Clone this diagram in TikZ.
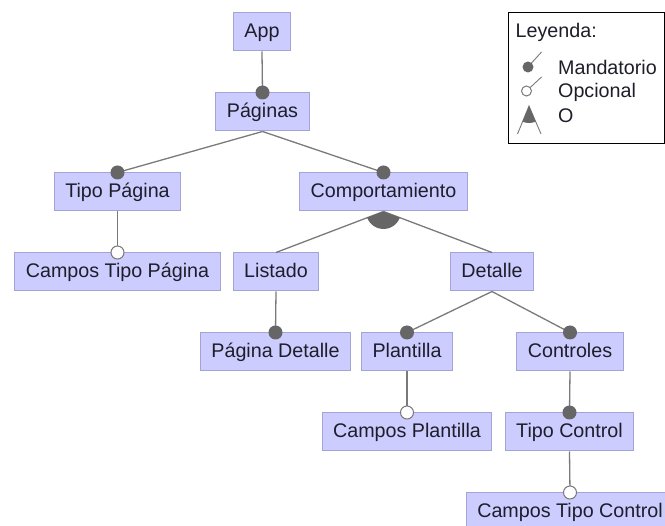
\documentclass[tikz,border=0pt]{standalone}
\usepackage{fontspec}
\setmainfont{Liberation Sans}
\usetikzlibrary{calc}
\definecolor{featfill}{HTML}{CCCCFF}
\definecolor{featborder}{HTML}{A3A3D6}
\definecolor{feattext}{HTML}{1E1E2A}
\definecolor{linkgray}{HTML}{7A7A7A}
\definecolor{dotgray}{HTML}{666666}
\begin{document}
\begin{tikzpicture}[x=1pt,y=-1pt,
  every node/.style={font=\fontsize{19.7}{23}\selectfont, text=feattext},
  feature/.style={draw=featborder, fill=featfill, line width=1pt,
    inner xsep=11pt, inner ysep=0pt, minimum height=38pt,
    text height=14.2pt, text depth=4pt},
  link/.style={draw=linkgray, line width=1.3pt},
  mandatory/.style={fill=dotgray},
  optional/.style={fill=white, draw=linkgray, line width=1pt},
  orfill/.style={fill=dotgray},
  legendframe/.style={draw=black, fill=white, line width=1pt,
    minimum width=156pt, minimum height=131pt, inner sep=0pt},
  legendtext/.style={anchor=base west, inner sep=0pt},
  legendline/.style={draw=linkgray, line width=0.9pt}]
\clip (0,0) rectangle (665,526);
\fill[white] (0,0) rectangle (665,526);

% feature tree
\node[feature] (app)    at (262,32)    {App};
\node[feature] (pag)    at (262.5,112) {Páginas};
\node[feature] (tpag)   at (117.5,192) {Tipo Página};
\node[feature] (comp)   at (383.5,192) {Comportamiento};
\node[feature] (ctp)    at (117.5,272) {Campos Tipo Página};
\node[feature] (list)   at (276,272)   {Listado};
\node[feature] (det)    at (492,272)   {Detalle};
\node[feature] (pdet)   at (275.5,352) {Página Detalle};
\node[feature] (plant)  at (407,352)   {Plantilla};
\node[feature] (ctrl)   at (570,352)   {Controles};
\node[feature] (cplant) at (407,432)   {Campos Plantilla};
\node[feature] (tctrl)  at (569.5,432) {Tipo Control};
\node[feature] (ctc)    at (570,512)   {Campos Tipo Control};

% parent-child links
\draw[link] (app.south)   -- (pag.north);
\draw[link] (pag.south)   -- (tpag.north);
\draw[link] (pag.south)   -- (comp.north);
\draw[link] (tpag.south)  -- (ctp.north);
\draw[link] (comp.south)  -- (list.north);
\draw[link] (comp.south)  -- (det.north);
\draw[link] (list.south)  -- (pdet.north);
\draw[link] (det.south)   -- (plant.north);
\draw[link] (det.south)   -- (ctrl.north);
\draw[link] (plant.south) -- (cplant.north);
\draw[link] (ctrl.south)  -- (tctrl.north);
\draw[link] (tctrl.south) -- (ctc.north);

% or-group sector under Comportamiento
\begin{scope}
  \clip (comp.south) -- ($(comp.south)!100pt!(list.north)$)
        -- ($(comp.south)!100pt!(det.north)$) -- cycle;
  \fill[orfill] (comp.south) circle (17.5pt);
\end{scope}

% mandatory markers
\foreach \n in {pag,tpag,comp,pdet,plant,ctrl,tctrl}
  \fill[mandatory] (\n.north) circle (7pt);
% optional markers
\foreach \n in {ctp,cplant,ctc}
  \filldraw[optional] (\n.north) circle (6.5pt);

% legend
\node[legendframe] (legend) at (586,78.5) {};
\node[legendtext] (legtitle) at (515.5,37.5) {Leyenda:};
\node[legendtext] (legmand)  at (558,75)   {Mandatorio};
\node[legendtext] (legopt)   at (558,97.5) {Opcional};
\node[legendtext] (legor)    at (558,123)  {O};

\coordinate (mandc) at (528,67);
\coordinate (mandt) at (541.5,52);
\draw[legendline] (mandc) -- (mandt);
\fill[mandatory] (mandc) circle (5.5pt);

\coordinate (optc) at (526.5,91);
\coordinate (optt) at (541.5,77);
\draw[legendline] (optc) -- (optt);
\filldraw[optional] (optc) circle (5pt);

\coordinate (ortop) at (529,106);
\coordinate (orleft) at (517.5,134);
\coordinate (orright) at (541,134);
\draw[legendline] (orleft) -- (ortop) -- (orright);
\begin{scope}
  \clip (ortop) -- (orleft) -- (orright) -- cycle;
  \fill[orfill] (ortop) circle (17pt);
\end{scope}
\end{tikzpicture}
\end{document}
